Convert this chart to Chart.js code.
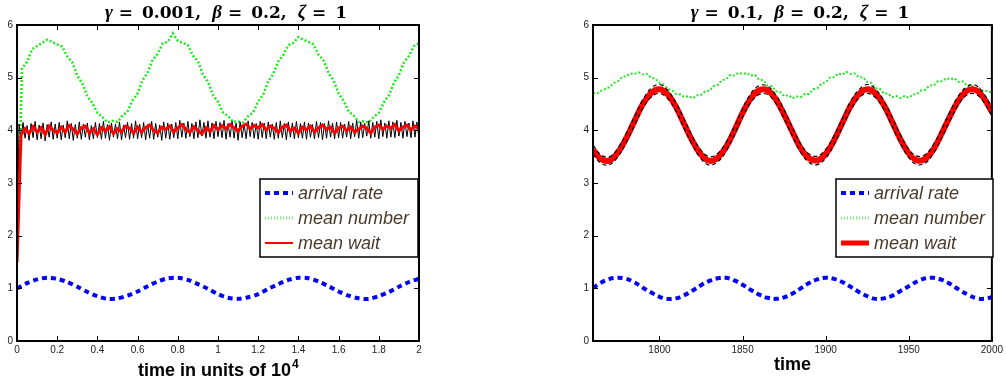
<!DOCTYPE html>
<html>
<head>
<meta charset="utf-8">
<script src="https://cdn.jsdelivr.net/npm/chart.js@4.4.1/dist/chart.umd.min.js"></script>
<style>
  body { margin: 0; background: #fff; }
  #wrap { position: relative; width: 1006px; height: 383px; }
  canvas { position: absolute; left: 0; top: 0; }
</style>
</head>
<body>
<div id="wrap">
  <canvas id="leftChart" width="1006" height="383"></canvas>
  <canvas id="rightChart" width="1006" height="383"></canvas>
</div>
<script>
// Data, left panel (time in units of 10^4)

const left_arrival = [1.00,1.10,1.17,1.20,1.18,1.12,1.03,0.93,0.85,0.80,0.81,0.86,0.94,1.04,1.13,1.19,1.20,1.16,1.08,0.99,
  0.89,0.82,0.80,0.83,0.89,0.99,1.08,1.16,1.20,1.19,1.13,1.04,0.94,0.86,0.81,0.80,0.85,0.93,1.03,1.12,1.18];

const left_number = [1.5,5.18,5.30,5.54,5.60,5.66,5.72,5.68,5.63,5.59,
  5.40,5.29,5.04,4.89,4.64,4.52,4.33,4.25,4.15,4.18,
  4.16,4.28,4.36,4.57,4.70,4.95,5.10,5.34,5.45,5.65,
  5.68,5.84,5.70,5.66,5.62,5.42,5.31,5.06,4.92,4.67,
  4.54,4.34,4.27,4.16,4.17,4.15,4.27,4.34,4.55,4.68,
  4.93,5.07,5.31,5.43,5.62,5.66,5.77,5.72,5.68,5.63,
  5.44,5.33,5.09,4.95,4.70,4.56,4.36,4.28,4.16,4.17,
  4.15,4.26,4.33,4.53,4.66,4.90,5.05,5.29,5.41,5.60,5.66];

const left_wait = [1.5,
  3.91,4.03,3.94,4.07,3.97,4.05,3.92,4.08,4.00,3.95,
  4.06,3.97,4.09,4.02,3.93,4.05,4.08,3.95,4.03,3.92,
  4.05,3.99,4.07,3.94,4.03,3.97,4.08,4.04,3.95,4.06,
  3.97,4.05,4.10,4.00,3.95,4.06,4.02,4.08,3.97,4.04,
  4.11,4.02,3.96,4.07,4.00,3.93,4.05,3.98,4.09,4.02,
  4.09,4.03,4.11,4.05,3.99,4.08,4.12,4.03,4.09,4.05,
  4.11,4.01,4.08,4.04,3.96,4.06,4.10,3.99,4.04,3.95,
  4.06,4.01,4.08,3.97,4.04,4.10,4.02,4.06,3.95,4.04,
  4.08,3.99,4.06,3.97,4.02,4.08,4.04,3.95,4.06,4.10,
  4.02,4.08,4.04,4.11,3.99,4.06,4.10,4.01,4.08,4.04];

// raw (noisy) wait estimate behind the red curve
const left_wait_raw = [1.5,
  4.12,3.83,4.15,3.85,4.09,3.81,4.13,3.86,4.17,3.82,4.10,3.84,4.14,3.80,4.11,3.87,4.16,3.83,4.12,3.85,
  4.15,3.82,4.10,3.86,4.18,3.84,4.13,3.81,4.11,3.85,4.16,3.83,4.12,3.87,4.14,3.82,4.09,3.84,4.15,3.86,
  4.13,3.83,4.17,3.85,4.11,3.81,4.14,3.87,4.12,3.84,4.16,3.82,4.10,3.86,4.15,3.83,4.13,3.85,4.18,3.84,
  4.12,3.86,4.15,3.82,4.11,3.85,4.17,3.83,4.13,3.87,4.10,3.81,4.16,3.85,4.14,3.83,4.12,3.86,4.15,3.84,
  4.19,3.87,4.14,3.85,4.17,3.88,4.13,3.84,4.16,3.86,4.20,3.89,4.15,3.85,4.18,3.87,4.14,3.84,4.17,3.88,
  4.15,3.86,4.19,3.83,4.13,3.87,4.17,3.85,4.14,3.81,4.16,3.86,4.12,3.84,4.18,3.88,4.15,3.85,4.13,3.83,
  4.17,3.86,4.14,3.84,4.16,3.87,4.12,3.83,4.15,3.85,4.18,3.86,4.13,3.82,4.16,3.87,4.14,3.84,4.17,3.86,
  4.13,3.85,4.16,3.83,4.14,3.87,4.11,3.84,4.17,3.86,4.15,3.82,4.13,3.85,4.18,3.87,4.14,3.84,4.16,3.86,
  4.15,3.85,4.12,3.87,4.17,3.84,4.14,3.88,4.19,3.85,4.16,3.86,4.13,3.89,4.18,3.85,4.15,3.87,4.17,3.84,
  4.20,3.88,4.14,3.85,4.18,3.87,4.16,3.86,4.19,3.89,4.15,3.85,4.17,3.88,4.14,3.86,4.18,3.87,4.16,3.85];

// Data, right panel (time 1760..2000)

const right_arrival = [1.01,1.11,1.18,1.20,1.18,1.11,1.01,0.92,0.84,0.80,0.81,0.87,0.96,1.06,1.14,1.19,1.20,1.15,1.07,0.97,
  0.88,0.82,0.80,0.83,0.90,1.00,1.10,1.17,1.20,1.18,1.12,1.03,0.93,0.85,0.80,0.81,0.86,0.95,1.04,1.13,
  1.19,1.20,1.16,1.08,0.98,0.89,0.82,0.80,0.83];

const right_wait = [3.63,3.45,3.43,3.58,3.85,4.18,4.50,4.71,4.78,4.68,4.44,4.11,3.79,3.54,3.42,3.48,3.68,3.99,4.33,4.61,
  4.76,4.76,4.59,4.30,3.97,3.66,3.47,3.43,3.55,3.81,4.14,4.46,4.69,4.78,4.70,4.48,4.16,3.83,3.56,3.43,
  3.46,3.65,3.95,4.28,4.57,4.75,4.77,4.62,4.35];

const right_wait_hi = [3.72,3.53,3.50,3.66,3.94,4.26,4.58,4.80,4.87,4.76,4.52,4.20,3.87,3.62,3.50,3.56,3.77,4.07,4.41,4.70,
  4.85,4.84,4.67,4.39,4.05,3.74,3.55,3.51,3.64,3.89,4.22,4.55,4.77,4.87,4.78,4.56,4.25,3.91,3.64,3.51,
  3.54,3.74,4.03,4.36,4.66,4.83,4.86,4.70,4.43];

const right_wait_lo = [3.55,3.37,3.35,3.50,3.77,4.10,4.42,4.63,4.70,4.60,4.36,4.03,3.71,3.46,3.34,3.40,3.60,3.91,4.25,4.53,
  4.68,4.68,4.51,4.22,3.89,3.58,3.39,3.35,3.47,3.73,4.06,4.38,4.61,4.70,4.62,4.40,4.08,3.75,3.48,3.35,
  3.38,3.57,3.87,4.20,4.49,4.67,4.69,4.54,4.27];

const right_number = [4.71,4.70,4.75,4.79,4.82,4.90,4.93,5.01,5.03,5.08,
  5.07,5.10,5.06,5.07,5.00,4.98,4.90,4.87,4.79,4.76,
  4.69,4.68,4.63,4.65,4.61,4.66,4.67,4.74,4.75,4.84,
  4.86,4.95,4.97,5.05,5.04,5.09,5.07,5.09,5.04,5.05,
  4.96,4.95,4.85,4.84,4.74,4.73,4.65,4.67,4.61,4.64,
  4.63,4.69,4.69,4.78,4.80,4.89,4.91,5.00,5.01,5.08,
  5.06,5.11,5.07,5.08,5.01,5.01,4.92,4.90,4.80,4.79,
  4.70,4.70,4.63,4.65,4.61,4.65,4.62,4.68,4.69,4.76,
  4.77,4.85,4.85,4.93,4.93,4.99,4.97,4.99,4.92,4.93,
  4.85,4.86,4.79,4.80,4.74,4.75,4.71];

const legend_labels = ["arrival rate", "mean number", "mean wait"];

// Helpers

// evenly spaced sample times
function sample_times(start, step, n) {
  return Array.from({length: n}, (_, i) => +(start + i * step).toFixed(4));
}

function to_points(xs, ys) {
  return ys.map((y, i) => ({x: xs[i], y: y}));
}

const TICK_FONT = {family: '"Liberation Sans", Arial', size: 10};
const BLUE = '#0000ff';
const GREEN = '#1fe81f';
const RED = '#ff0000';

// Box with inward ticks, titles, legend (drawn on the canvas like MATLAB)
const matlab_frame = {
  id: 'matlab_frame',
  afterDraw(chart, args, opts) {
    const ctx = chart.ctx;
    const a = chart.chartArea;
    const xs = chart.scales.x, ys = chart.scales.y;
    ctx.save();

    // inward ticks
    ctx.strokeStyle = '#000';
    ctx.lineWidth = 1;
    ctx.beginPath();
    xs.ticks.forEach(t => {
      const px = Math.round(xs.getPixelForValue(t.value)) + 0.5;
      ctx.moveTo(px, a.bottom); ctx.lineTo(px, a.bottom - 5);
      ctx.moveTo(px, a.top); ctx.lineTo(px, a.top + 5);
    });
    ys.ticks.forEach(t => {
      const py = Math.round(ys.getPixelForValue(t.value)) + 0.5;
      ctx.moveTo(a.left, py); ctx.lineTo(a.left + 5, py);
      ctx.moveTo(a.right, py); ctx.lineTo(a.right - 5, py);
    });
    ctx.stroke();

    // box
    ctx.lineWidth = 2;
    ctx.strokeRect(a.left, a.top, a.right - a.left, a.bottom - a.top);

    // title: math-like pieces laid out left to right, centred
    ctx.fillStyle = '#000';
    ctx.textBaseline = 'alphabetic';
    ctx.textAlign = 'left';
    const font_of = it => it ? 'italic bold 19px "Liberation Serif"' : 'bold 17px "DejaVu Serif"';
    let total = 0;
    opts.title.forEach(([txt, it, gap]) => { ctx.font = font_of(it); total += ctx.measureText(txt).width + gap; });
    let tx = opts.titleCenter - total / 2;
    opts.title.forEach(([txt, it, gap]) => {
      ctx.font = font_of(it);
      ctx.fillText(txt, tx, 18);
      tx += ctx.measureText(txt).width + gap;
    });

    // x label
    ctx.font = 'bold 18px "Liberation Sans", Arial';
    ctx.fillText(opts.xlabel, opts.xlabelX, opts.xlabelY);
    if (opts.xlabelSup) {
      const w = ctx.measureText(opts.xlabel).width;
      ctx.font = 'bold 12px "Liberation Sans", Arial';
      ctx.fillText(opts.xlabelSup, opts.xlabelX + w + 1, opts.xlabelY - 8);
    }

    // legend
    const L = opts.legend;
    ctx.fillStyle = '#fff';
    ctx.fillRect(L.x, L.y, L.w, L.h);
    ctx.strokeStyle = '#000';
    ctx.lineWidth = 1.5;
    ctx.strokeRect(L.x, L.y, L.w, L.h);
    const styles = [
      {color: BLUE, width: 4, dash: [5, 4]},
      {color: '#6ef06e', width: 3, dash: [1, 2]},
      {color: RED, width: L.redWidth, dash: []}
    ];
    legend_labels.forEach((label, i) => {
      const cy = L.y + 14 + i * 25;
      const s = styles[i];
      ctx.strokeStyle = s.color;
      ctx.lineWidth = s.width;
      ctx.setLineDash(s.dash);
      ctx.beginPath();
      ctx.moveTo(L.x + 5, cy); ctx.lineTo(L.x + 33, cy);
      ctx.stroke();
      ctx.setLineDash([]);
      ctx.fillStyle = '#4a3828';
      ctx.font = 'italic 18px "Liberation Sans", Arial';
      ctx.textBaseline = 'middle';
      ctx.fillText(label, L.x + 38, cy + 1);
    });
    ctx.restore();
  }
};

function base_options(padLeft, padRight, xmin, xmax, xstep, frameOpts) {
  return {
    responsive: false,
    animation: false,
    events: [],
    layout: {padding: {left: padLeft, right: padRight, top: 25, bottom: 0}},
    elements: {point: {radius: 0}},
    scales: {
      x: {
        type: 'linear', min: xmin, max: xmax,
        afterBuildTicks: s => { s.ticks = s.ticks.filter(t => Math.abs(t.value / xstep - Math.round(t.value / xstep)) < 1e-6); },
        afterFit: s => { s.height = 42; },
        ticks: {stepSize: xstep, font: TICK_FONT, color: '#222', padding: 3, maxRotation: 0, autoSkip: false,
                callback: v => String(+v.toFixed(2))},
        grid: {display: false, drawTicks: false},
        border: {display: false}
      },
      y: {
        min: 0, max: 6,
        afterFit: s => { s.width = 17; },
        ticks: {stepSize: 1, font: TICK_FONT, color: '#222', padding: 4},
        grid: {display: false, drawTicks: false},
        border: {display: false}
      }
    },
    plugins: {
      legend: {display: false},
      tooltip: {enabled: false},
      matlab_frame: frameOpts
    }
  };
}

// Left panel
const t_arrival_left = sample_times(0, 0.05, left_arrival.length);
const t_number_left = sample_times(0, 0.025, left_number.length);
const t_wait_left = sample_times(0, 0.02, left_wait.length);
const t_raw_left = sample_times(0, 0.01, left_wait_raw.length);

new Chart(document.getElementById('leftChart'), {
  type: 'line',
  data: {
    datasets: [
      {data: to_points(t_wait_left, left_wait), borderColor: RED, borderWidth: 3, order: 0},
      {data: to_points(t_raw_left, left_wait_raw), borderColor: '#000', borderWidth: 1, order: 1},
      {data: to_points(t_number_left, left_number), borderColor: GREEN, borderWidth: 2.5, borderDash: [2, 2], order: 2},
      {data: to_points(t_arrival_left, left_arrival), borderColor: BLUE, borderWidth: 4, borderDash: [5, 4], tension: 0.3, order: 3}
    ]
  },
  options: base_options(0, 1006 - 419, 0, 2, 0.2, {
    title: [['γ', true, 6], ['=', false, 9], ['0.001,', false, 11], ['β', true, 6], ['=', false, 9], ['0.2,', false, 11], ['ζ', true, 6], ['=', false, 9], ['1', false, 0]],
    titleCenter: 226,
    xlabel: 'time in units of 10', xlabelSup: '4', xlabelX: 138, xlabelY: 376,
    legend: {x: 260, y: 179, w: 158, h: 78, redWidth: 2}
  }),
  plugins: [matlab_frame]
});

// Right panel
const t_right = sample_times(1760, 5, right_arrival.length);
const t_number_right = sample_times(1760, 2.5, right_number.length);

new Chart(document.getElementById('rightChart'), {
  type: 'line',
  data: {
    datasets: [
      {data: to_points(t_right, right_wait_hi), borderColor: '#000', borderWidth: 1.2, borderDash: [4, 3], tension: 0.4, order: 0},
      {data: to_points(t_right, right_wait_lo), borderColor: '#000', borderWidth: 1.2, borderDash: [4, 3], tension: 0.4, order: 0},
      {data: to_points(t_right, right_wait), borderColor: RED, borderWidth: 6, tension: 0.4, order: 1},
      {data: to_points(t_number_right, right_number), borderColor: GREEN, borderWidth: 2, borderDash: [2, 2], order: 2},
      {data: to_points(t_right, right_arrival), borderColor: BLUE, borderWidth: 4, borderDash: [5, 4], tension: 0.4, order: 3}
    ]
  },
  options: base_options(593 - 17, 1006 - 995, 1760, 2000, 50, {
    title: [['γ', true, 6], ['=', false, 9], ['0.1,', false, 11], ['β', true, 6], ['=', false, 9], ['0.2,', false, 11], ['ζ', true, 6], ['=', false, 9], ['1', false, 0]],
    titleCenter: 800,
    xlabel: 'time', xlabelX: 774, xlabelY: 370,
    legend: {x: 836, y: 179, w: 157, h: 78, redWidth: 5}
  }),
  plugins: [matlab_frame]
});
</script>
</body>
</html>
